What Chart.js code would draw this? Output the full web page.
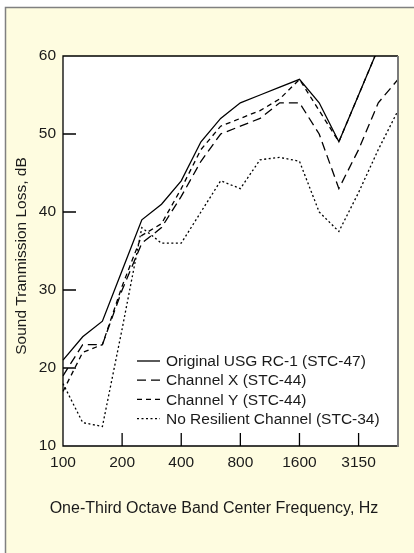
<!DOCTYPE html>
<html><head><meta charset="utf-8">
<script src="https://cdn.jsdelivr.net/npm/chart.js@4/dist/chart.umd.min.js"></script>
<style>html,body{margin:0;padding:0;background:#fff;} canvas{display:block;}</style>
</head><body>
<canvas id="c" width="414" height="553"></canvas>
<script>
// One-third octave band centre frequencies (Hz)
const frequencies = ['100','125','160','200','250','315','400','500','630','800','1000','1250','1600','2000','2500','3150','4000','5000'];
const tickLabels = ['100','200','400','800','1600','3150'];
const yTicks = [10, 20, 30, 40, 50, 60];

// Sound transmission loss (dB)
const originalRC1 = [21, 24, 26, 32.5, 39, 41, 44, 49, 52, 54, 55, 56, 57, 54, 49, 55, 61, 64];
const channelX    = [19, 23, 23, 30, 36, 38, 42, 46.5, 50, 51, 52, 54, 54, 50, 43, 48, 54, 57];
const channelY    = [17, 22, 23, 30.5, 37, 38.5, 43, 48, 51, 52, 53, 54.5, 57, 53, 49, 55, 61, 64];
const noResilient = [18, 13, 12.5, 25, 38, 36, 36, 40, 44, 43, 46.7, 47, 46.5, 40, 37.5, 42.5, 48, 53];

const seriesNames = ['Original USG RC-1 (STC-47)', 'Channel X (STC-44)', 'Channel Y (STC-44)', 'No Resilient Channel (STC-34)'];
const yTitle = 'Sound Tranmission Loss, dB';
const xTitle = 'One-Third Octave Band Center Frequency, Hz';

const FONT = '"Liberation Sans", Arial, Helvetica, sans-serif';
const FS = 15.5;
const TXT = '#1a1a1a';
Chart.defaults.font.family = FONT;
Chart.defaults.font.size = FS;
Chart.defaults.color = TXT;

const panelPlugin = {
  id: 'panel',
  beforeDraw(chart) {
    const ctx = chart.ctx, a = chart.chartArea;
    ctx.save();
    ctx.fillStyle = '#ffffff';
    ctx.fillRect(0, 0, chart.width, chart.height);
    ctx.fillStyle = '#FEFCE0';
    ctx.fillRect(5, 7, chart.width - 5, chart.height - 7);
    ctx.strokeStyle = '#808080';
    ctx.lineWidth = 1.5;
    ctx.beginPath();
    ctx.moveTo(5.5, chart.height); ctx.lineTo(5.5, 7.5); ctx.lineTo(chart.width, 7.5);
    ctx.stroke();
    ctx.fillStyle = '#ffffff';
    ctx.fillRect(a.left, a.top, a.right - a.left, a.bottom - a.top);
    ctx.restore();
  }
};

const framePlugin = {
  id: 'frame',
  afterDatasetsDraw(chart) {
    const ctx = chart.ctx, a = chart.chartArea;
    const xs = chart.scales.x, ys = chart.scales.y;
    ctx.save();
    ctx.setLineDash([]);
    ctx.strokeStyle = '#000';
    ctx.lineWidth = 1.3;
    // inner tick marks
    ctx.beginPath();
    frequencies.forEach((f, i) => {
      if (i > 0 && tickLabels.includes(f)) {
        const x = xs.getPixelForTick(i);
        ctx.moveTo(x, a.bottom); ctx.lineTo(x, a.bottom - 13);
      }
    });
    yTicks.forEach(v => {
      if (v > ys.min && v < ys.max) {
        const y = ys.getPixelForValue(v);
        ctx.moveTo(a.left, y); ctx.lineTo(a.left + 13, y);
      }
    });
    ctx.stroke();
    // plot frame
    ctx.beginPath();
    ctx.moveTo(a.right, a.top); ctx.lineTo(a.left, a.top); ctx.lineTo(a.left, a.bottom); ctx.lineTo(a.right, a.bottom);
    ctx.stroke();
    ctx.strokeStyle = '#7a7a7a';
    ctx.lineWidth = 2;
    ctx.beginPath();
    ctx.moveTo(a.right, a.top); ctx.lineTo(a.right, a.bottom + 1);
    ctx.stroke();
    ctx.restore();
  }
};

const legendPlugin = {
  id: 'insideLegend',
  afterDraw(chart) {
    const ctx = chart.ctx, a = chart.chartArea;
    const x0 = a.left + 74, y0 = a.bottom - 85, step = 19.2;
    ctx.save();
    ctx.font = FS + 'px ' + FONT;
    ctx.fillStyle = TXT;
    ctx.textBaseline = 'middle';
    ctx.textAlign = 'left';
    chart.data.datasets.forEach((ds, i) => {
      const y = y0 + i * step;
      ctx.strokeStyle = ds.borderColor;
      ctx.lineWidth = ds.borderWidth;
      ctx.setLineDash(ds.borderDash || []);
      ctx.beginPath();
      ctx.moveTo(x0, y); ctx.lineTo(x0 + 23, y);
      ctx.stroke();
      ctx.fillText(ds.label, x0 + 29, y + 1);
    });
    ctx.restore();
  }
};

const titlesPlugin = {
  id: 'axisTitles',
  afterDraw(chart) {
    const ctx = chart.ctx, a = chart.chartArea;
    ctx.save();
    ctx.fillStyle = TXT;
    ctx.textAlign = 'center';
    ctx.textBaseline = 'middle';
    ctx.font = '16px ' + FONT;
    ctx.fillText(xTitle, (a.left + a.right) / 2 - 16.5, a.bottom + 62.5);
    ctx.font = FS + 'px ' + FONT;
    ctx.translate(a.left - 41, (a.top + a.bottom) / 2 + 5);
    ctx.rotate(-Math.PI / 2);
    ctx.fillText(yTitle, 0, 0);
    ctx.restore();
  }
};

const mk = (label, data, dash) => ({
  label, data, borderColor: '#000', borderWidth: 1.3, borderDash: dash,
  pointRadius: 0, pointHoverRadius: 0, fill: false, tension: 0
});

new Chart(document.getElementById('c'), {
  type: 'line',
  data: {
    labels: frequencies,
    datasets: [
      mk(seriesNames[0], originalRC1, []),
      mk(seriesNames[1], channelX, [9, 5]),
      mk(seriesNames[2], channelY, [5, 4]),
      mk(seriesNames[3], noResilient, [2, 2.5])
    ]
  },
  options: {
    responsive: false,
    animation: false,
    events: [],
    devicePixelRatio: 1,
    layout: { padding: { left: 0, top: 56, right: 16, bottom: 0 } },
    plugins: { legend: { display: false }, title: { display: false }, tooltip: { enabled: false } },
    scales: {
      x: {
        type: 'category',
        offset: false,
        grid: { display: false, drawTicks: false },
        border: { display: false },
        ticks: {
          autoSkip: false, maxRotation: 0, minRotation: 0, padding: 7,
          callback: (v, i) => tickLabels.includes(frequencies[i]) ? frequencies[i] : ''
        },
        afterFit: s => { s.height = 107; }
      },
      y: {
        min: 10, max: 60,
        grid: { display: false, drawTicks: false },
        border: { display: false },
        ticks: { stepSize: 10, padding: 7 },
        afterFit: s => { s.width = 63; }
      }
    }
  },
  plugins: [panelPlugin, framePlugin, legendPlugin, titlesPlugin]
});
</script>
</body></html>
